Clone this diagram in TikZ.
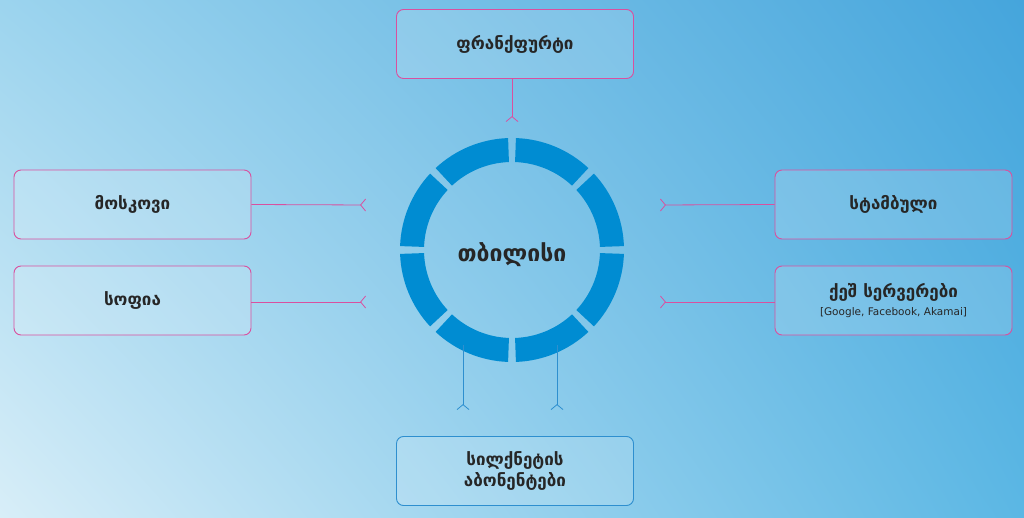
\documentclass[tikz,border=0pt]{standalone}
\usepackage{fontspec}
\setmainfont{DejaVu Sans}
\usetikzlibrary{arrows.meta,shadings}
\definecolor{pinkc}{HTML}{D9509F}
\definecolor{ringc}{HTML}{008CD2}
\definecolor{linkb}{HTML}{2E8FCF}
\definecolor{bgul}{HTML}{9CD4EE}
\definecolor{bgur}{HTML}{45A5DC}
\definecolor{bgll}{HTML}{D8EEF8}
\definecolor{bglr}{HTML}{5BB7E4}
\begin{document}
\begin{tikzpicture}[x=1pt,y=-1pt,
  cbox/.style={draw=pinkc,line width=0.9pt,rounded corners=7pt,fill=white,fill opacity=0.15,text opacity=1,minimum width=237pt,minimum height=69pt,font=\bfseries\fontsize{17}{21}\selectfont,align=center,text=black!85},
  link/.style={draw=pinkc,line width=0.8pt,-{Straight Barb[reversed,length=5pt,width=12pt]}},
  blink/.style={draw=linkb,line width=0.8pt,-{Straight Barb[reversed,length=5pt,width=12pt]}}]
\useasboundingbox (0,0) rectangle (1024,518);
\shade[upper left=bgul,upper right=bgur,lower left=bgll,lower right=bglr] (0,0) rectangle (1024,518);
% ring
\foreach \i in {0,...,7}{
  \fill[ringc] ({512+112*cos(\i*45+2)},{250-112*sin(\i*45+2)}) arc[start angle=-(\i*45+2),end angle=-(\i*45+43),radius=112]
    -- ({512+88*cos(\i*45+43)},{250-88*sin(\i*45+43)}) arc[start angle=-(\i*45+43),end angle=-(\i*45+2),radius=88] -- cycle;
}
\node[font=\bfseries\fontsize{23}{27}\selectfont,text=black!85] (tb) at (512,255) {თბილისი};
\node[cbox] (fr) at (515,44) {ფრანქფურტი};
\node[cbox] (mo) at (132.5,204.5) {მოსკოვი};
\node[cbox] (so) at (132.5,300.5) {სოფია};
\node[cbox] (is) at (893.5,204.5) {სტამბული};
\node[cbox] (ca) at (893.5,300.5) {ქეშ სერვერები\\[-3pt]{\mdseries\fontsize{10.5}{12}\selectfont [Google, Facebook, Akamai]}};
\node[cbox,draw=linkb] (si) at (515,471) {სილქნეტის\\აბონენტები};
\coordinate (t1) at (512,122);
\coordinate (l1) at (366,205);
\coordinate (l2) at (366,302);
\coordinate (r1) at (660,205);
\coordinate (r2) at (660,302);
\coordinate (b1a) at (463,345);
\coordinate (b2a) at (557,345);
\coordinate (b1) at (463,410);
\coordinate (b2) at (557,410);
\draw[link] (fr.south -| t1) -- (t1);
\draw[link] (mo.east) -- (l1);
\draw[link] (so.east |- l2) -- (l2);
\draw[link] (is.west) -- (r1);
\draw[link] (ca.west |- r2) -- (r2);
\draw[blink] (b1a) -- (b1);
\draw[blink] (b2a) -- (b2);
\end{tikzpicture}
\end{document}
